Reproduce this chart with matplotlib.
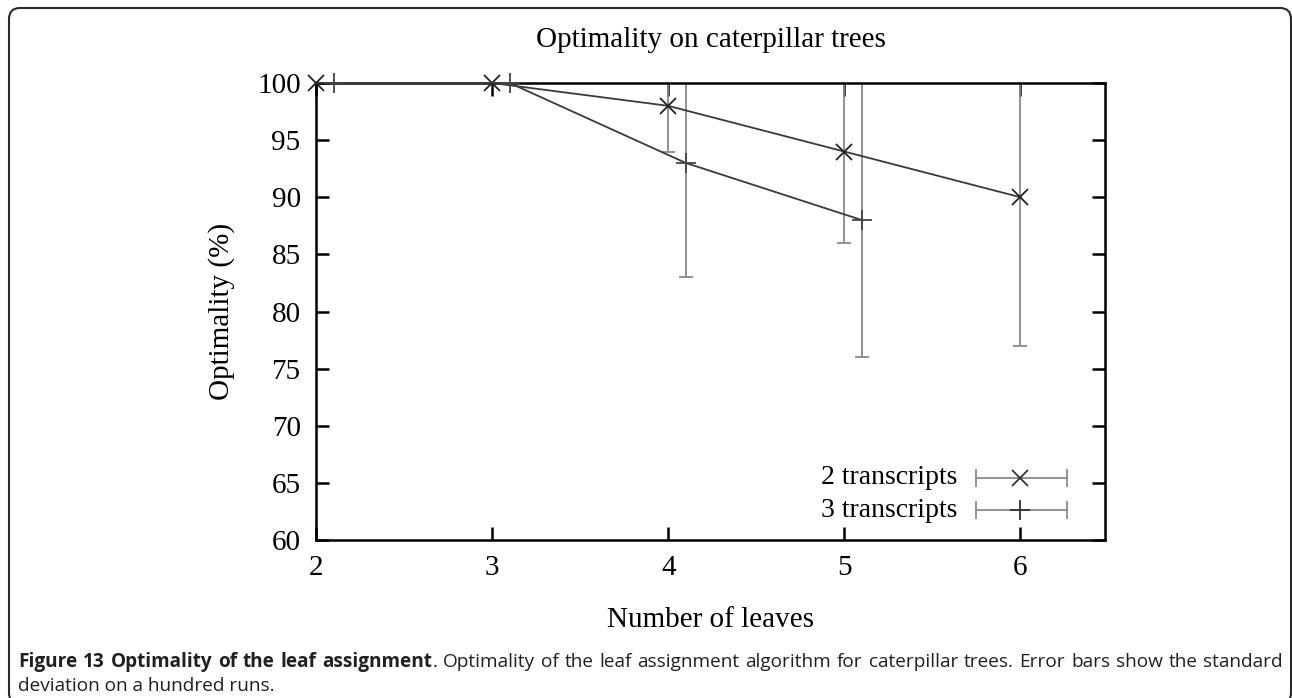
import matplotlib
matplotlib.use('Agg')
import matplotlib.pyplot as plt
from matplotlib.patches import FancyBboxPatch
from matplotlib.transforms import IdentityTransform

# ---- data ----
leaves_2 = [2, 3, 4, 5, 6]
opt_2 = [100, 100, 98, 94, 90]
std_2 = [0, 0, 4, 8, 13]
leaves_3 = [2.1, 3.1, 4.1, 5.1]
opt_3 = [100, 100, 93, 88]
std_3 = [0, 0, 10, 12]
x_ticks = [2, 3, 4, 5, 6]
y_ticks = [60, 65, 70, 75, 80, 85, 90, 95, 100]
series_labels = ["2 transcripts", "3 transcripts"]
title = "Optimality on caterpillar trees"
xlabel = "Number of leaves"
ylabel = "Optimality (%)"

W, H = 1292, 698
SERIF = "Liberation Serif"
CAP_FONT = ["Open Sans", "DejaVu Sans"]

fig = plt.figure(figsize=(W / 100, H / 100), dpi=100)
ax = fig.add_axes([316 / W, 1 - 540 / H, (1105 - 316) / W, (540 - 83) / H])

line_col = '#3a3a3a'
err_col = '#8a8a8a'

ax.errorbar(leaves_2, opt_2, yerr=std_2, fmt='none', ecolor=err_col,
            elinewidth=1.3, capsize=5, capthick=1.3)
ax.errorbar(leaves_3, opt_3, yerr=std_3, fmt='none', ecolor=err_col,
            elinewidth=1.3, capsize=5, capthick=1.3)
ax.plot(leaves_2, opt_2, color=line_col, lw=1.3, marker='x', ms=11,
        mew=1.3, mec='#222222', clip_on=False, zorder=5)
ax.plot(leaves_3, opt_3, color=line_col, lw=1.3, marker='+', ms=14,
        mew=1.3, mec='#444444', clip_on=False, zorder=5)

ax.set_xlim(2, 6.48)
ax.set_ylim(60, 100)
ax.set_xticks(x_ticks)
ax.set_yticks(y_ticks)
ax.tick_params(direction='in', length=9.5, width=1.8, top=True, right=True,
               labelsize=21, pad=11, colors='black')
for lab in ax.get_xticklabels() + ax.get_yticklabels():
    lab.set_fontfamily(SERIF)
for sp in ax.spines.values():
    sp.set_linewidth(1.8)
    sp.set_color('black')

ax.set_xlabel(xlabel, fontsize=21, family=SERIF)
ax.set_ylabel(ylabel, fontsize=21, family=SERIF)
ax.xaxis.label.set_va('center')
ax.xaxis.set_label_coords(0.5, (540 - 620) / 457)
ax.yaxis.label.set_va('center')
ax.yaxis.set_label_coords((222 - 316) / 789, 0.5)
ax.text(0.5, (540 - 40) / 457, title, transform=ax.transAxes, ha='center',
        va='center', fontsize=21, family=SERIF)

# ---- legend (gnuplot style, drawn in axes fraction) ----
leg_x0, leg_x1, leg_xm = 0.8365, 0.9518, 0.892
leg_rows = [0.1357, 0.0656]
leg_markers = ['x', '+']
leg_ms = [11, 14]
for lab, yy, mk, ms in zip(series_labels, leg_rows, leg_markers, leg_ms):
    ax.plot([leg_x0, leg_x1], [yy, yy], transform=ax.transAxes, color=err_col,
            lw=1.3, clip_on=False)
    ax.plot([leg_x0, leg_x1], [yy, yy], transform=ax.transAxes, ls='none',
            marker='|', ms=13, mew=1.3, color=err_col, clip_on=False)
    ax.plot([leg_xm], [yy], transform=ax.transAxes, ls='none', marker=mk,
            ms=ms, mew=1.3, color='#333333', clip_on=False)
    ax.text(0.8125, yy, lab, transform=ax.transAxes, ha='right', va='center',
            fontsize=20, family=SERIF)

# ---- figure frame ----
frame = FancyBboxPatch((9, -6), 1282, 696, boxstyle="round,pad=0,rounding_size=11",
                       transform=IdentityTransform(), fill=False, lw=1.5,
                       edgecolor='#2a2a2a')
fig.add_artist(frame)

# ---- caption ----
renderer = fig.canvas.get_renderer()


def twidth(s, weight, size):
    t = fig.text(0, 0, s, fontsize=size, fontweight=weight, family=CAP_FONT)
    w = t.get_window_extent(renderer).width
    t.remove()
    return w


line2 = "deviation on a hundred runs."
bold_part = "Figure 13 Optimality of the leaf assignment"
rest_part = ("Optimality of the leaf assignment algorithm for caterpillar trees. "
             "Error bars show the standard")
words = [[(w, 'bold')] for w in bold_part.split()]
words[-1].append(('.', 'normal'))
words += [[(w, 'normal')] for w in rest_part.split()]

x_left, x_right = 18, 1283
ref = 10.0
w10 = sum(twidth(s, wt, ref) for wd in words for s, wt in wd)
sp10 = twidth('a a', 'normal', ref) - twidth('aa', 'normal', ref)
cap_size = ref * (x_right - x_left) * 0.985 / (w10 + sp10 * (len(words) - 1))

widths = [[twidth(s, wt, cap_size) for s, wt in wd] for wd in words]
total = sum(sum(w) for w in widths)
gap = (x_right - x_left - total) / (len(words) - 1)
x = x_left
base1 = 667
for wd, ws in zip(words, widths):
    for (s, wt), w in zip(wd, ws):
        fig.text(x / W, 1 - base1 / H, s, fontsize=cap_size, fontweight=wt,
                 family=CAP_FONT, va='baseline', ha='left', color='#231f20')
        x += w
    x += gap
fig.text(x_left / W, 1 - 691 / H, line2, fontsize=cap_size, family=CAP_FONT,
         va='baseline', ha='left', color='#231f20')

fig.savefig('out.png', dpi=100)
